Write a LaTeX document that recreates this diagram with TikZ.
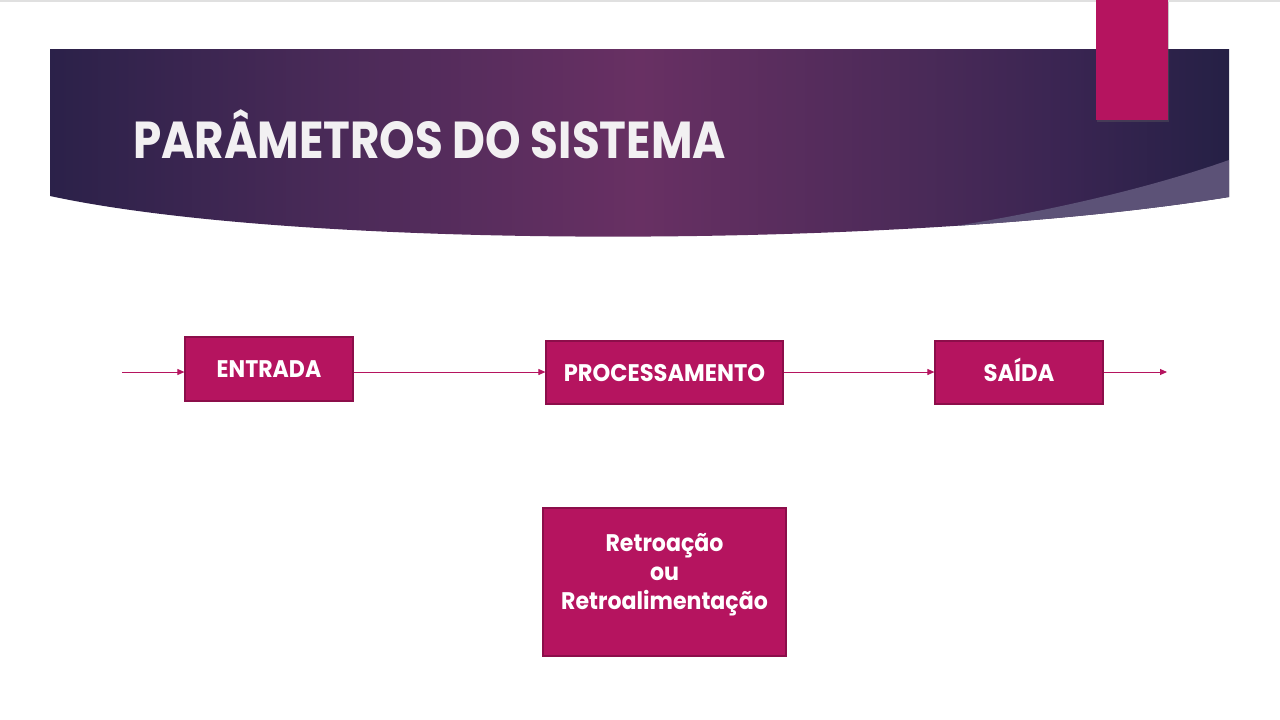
\documentclass[tikz,border=0pt]{standalone}
\usepackage{fontspec}
\setsansfont{Poppins}
\usetikzlibrary{arrows.meta}
\definecolor{magentabox}{HTML}{B5145F}
\definecolor{boxborder}{HTML}{8C0E4A}
\definecolor{titlewhite}{HTML}{F2F0F2}
\definecolor{bnA}{HTML}{2B2149}
\definecolor{bnB}{HTML}{4A2A58}
\definecolor{bnC}{HTML}{683063}
\definecolor{bnD}{HTML}{3A2552}
\definecolor{bnE}{HTML}{252045}
\definecolor{lavender}{HTML}{5C5277}
\pgfdeclarehorizontalshading{bannershade}{100bp}{
  color(0bp)=(bnA); color(25bp)=(bnA); color(37bp)=(bnB); color(50bp)=(bnC);
  color(62bp)=(bnB); color(68bp)=(bnD); color(75bp)=(bnE); color(100bp)=(bnE)}
\tikzset{
  stagebox/.style={draw=boxborder, line width=1.2pt, fill=magentabox, text=white,
    font=\sffamily\bfseries\fontsize{24}{29}\selectfont, align=center, inner sep=0pt,
    text height=17pt, text depth=0pt},
  retrotext/.style={text=white, font=\sffamily\bfseries\fontsize{24}{29}\selectfont, align=center, inner sep=0pt},
  flow/.style={draw=magentabox, line width=0.9pt, -{Triangle[length=7pt,width=6pt]}}
}
\begin{document}
\begin{tikzpicture}[x=1pt,y=-1pt]
\useasboundingbox (0,0) rectangle (1280,720);
\fill[white] (0,0) rectangle (1280,720);
\draw[black!12, line width=2pt] (0,0.5) -- (1280,0.5);
% banner
\def\bannerpath{(50,49) -- (1229,49) -- (1229,197) .. controls (900,250) and (300,250) .. (50,196) -- cycle}
\shade[shading=bannershade] \bannerpath;
\begin{scope}
  \clip \bannerpath;
  \fill[lavender] (860,240) .. controls (1000,222) and (1130,195) .. (1229,160) -- (1240,160) -- (1240,262) -- (860,262) -- cycle;
\end{scope}
% pink bar
\fill[black!60, opacity=0.35] (1097,2) rectangle (1169,122);
\fill[magentabox] (1096,0) rectangle (1168,120);
% title
\node[anchor=base west, inner sep=0pt, text=titlewhite, font=\sffamily\bfseries\fontsize{52}{60}\selectfont] (title) at (133,158)
  {\scalebox{0.87}[1]{PARÂMETROS DO SISTEMA}};
% boxes
\node[stagebox, minimum width=168pt, minimum height=64pt] (entrada) at (269,369) {\scalebox{0.92}[1]{ENTRADA}};
\node[stagebox, minimum width=237pt, minimum height=63pt] (proc) at (664.5,372.5) {\scalebox{0.94}[1]{PROCESSAMENTO}};
\node[stagebox, minimum width=168pt, minimum height=63pt] (saida) at (1019,372.5) {\scalebox{0.95}[1]{SAÍDA}};
\node[stagebox, minimum width=243pt, minimum height=148pt] (retro) at (664.5,582) {};
\node[retrotext] (retrolabel) at ([yshift=7pt]retro.center)
  {\scalebox{0.92}[1]{Retroação}\\\scalebox{0.92}[1]{ou}\\\scalebox{0.92}[1]{Retroalimentação}};
% connectors
\coordinate (in) at (122,372);
\coordinate (out) at (1167,372);
\draw[flow] (in) -- (in -| entrada.west);
\draw[flow] (entrada.east |- in) -- (in -| proc.west);
\draw[flow] (proc.east |- in) -- (in -| saida.west);
\draw[flow] (saida.east |- out) -- (out);
\end{tikzpicture}
\end{document}
